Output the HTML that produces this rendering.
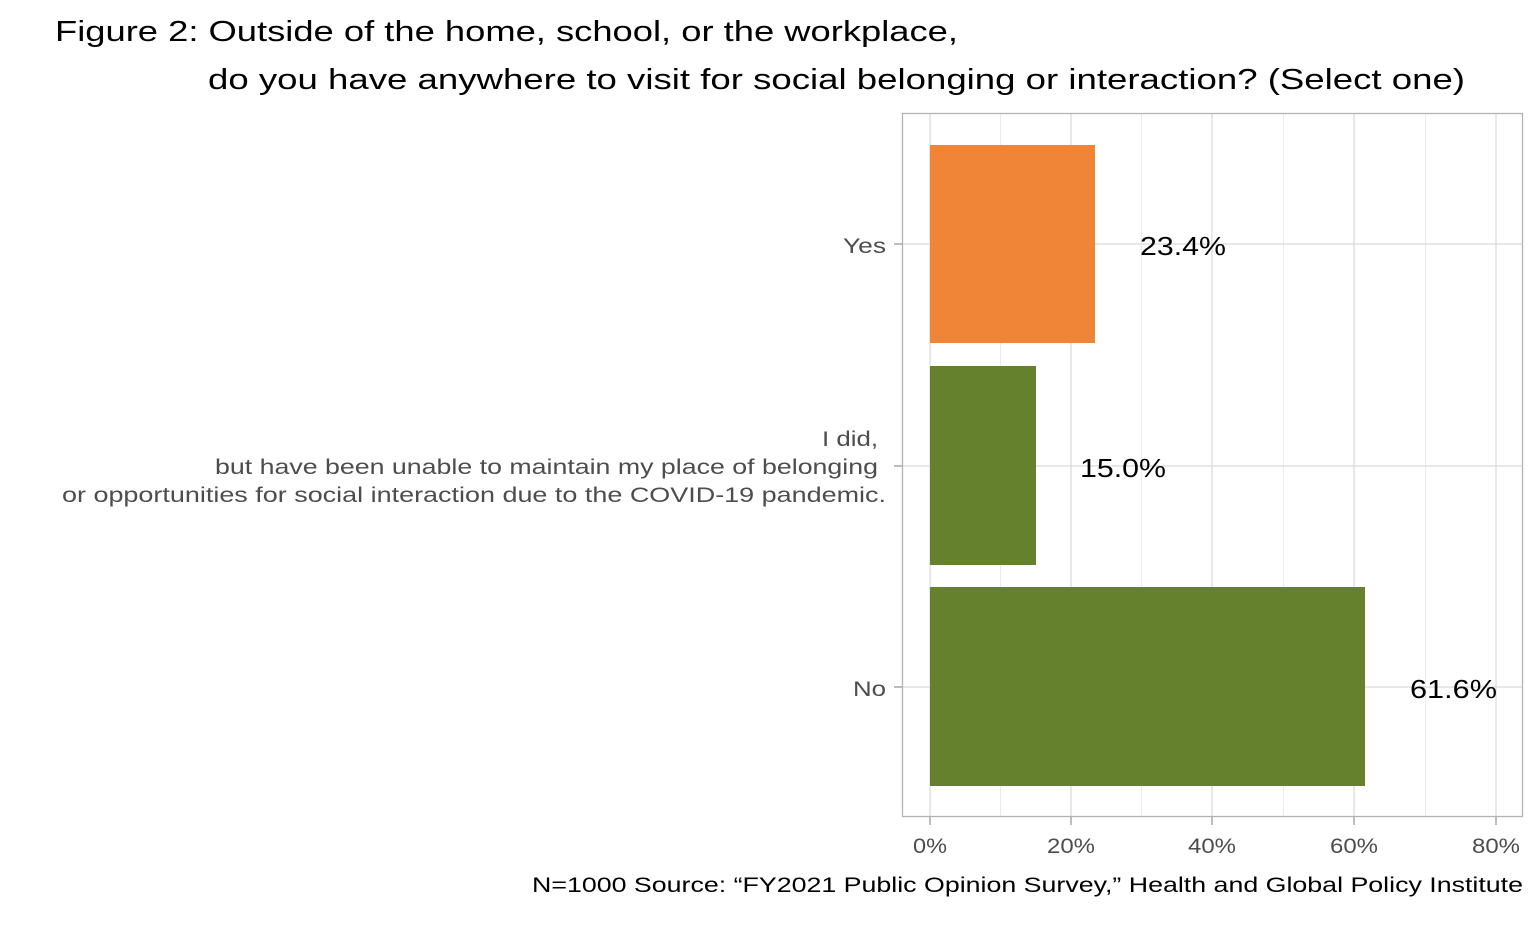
<!DOCTYPE html>
<html><head><meta charset="utf-8"><style>
html,body{margin:0;padding:0;background:#fff;}
svg{display:block;font-family:"Liberation Sans","Noto Sans CJK JP",sans-serif;}
</style></head><body>
<svg width="1540" height="951" viewBox="0 0 1540 951" xmlns="http://www.w3.org/2000/svg">
<rect width="1540" height="951" fill="#fff"/>
<text x="55" y="41" font-size="29" fill="#000" textLength="903" lengthAdjust="spacingAndGlyphs">Figure 2: Outside of the home, school, or the workplace,</text>
<text x="208" y="89" font-size="29" fill="#000" textLength="1257" lengthAdjust="spacingAndGlyphs">do you have anywhere to visit for social belonging or interaction? (Select one)</text>
<g stroke="#ebebeb" stroke-width="1">
<line x1="1000.5" y1="113" x2="1000.5" y2="817"/>
<line x1="1141.5" y1="113" x2="1141.5" y2="817"/>
<line x1="1283.5" y1="113" x2="1283.5" y2="817"/>
<line x1="1425.5" y1="113" x2="1425.5" y2="817"/>
</g>
<g stroke="#d9d9d9" stroke-width="1.2">
<line x1="930" y1="113" x2="930" y2="817"/>
<line x1="1071" y1="113" x2="1071" y2="817"/>
<line x1="1212" y1="113" x2="1212" y2="817"/>
<line x1="1354" y1="113" x2="1354" y2="817"/>
<line x1="1496" y1="113" x2="1496" y2="817"/>
<line x1="902" y1="244" x2="1523" y2="244"/>
<line x1="902" y1="466" x2="1523" y2="466"/>
<line x1="902" y1="687" x2="1523" y2="687"/>
</g>
<rect x="930" y="145" width="165" height="198" fill="#f08537"/>
<rect x="930" y="366" width="106" height="199" fill="#65812e"/>
<rect x="930" y="587" width="435" height="199" fill="#65812e"/>
<rect x="902.5" y="113.5" width="620" height="703" fill="none" stroke="#b3b3b3" stroke-width="1.3"/>
<g font-size="26" fill="#000" lengthAdjust="spacingAndGlyphs">
<text x="1140" y="255" textLength="86" lengthAdjust="spacingAndGlyphs">23.4%</text>
<text x="1080" y="477" textLength="86" lengthAdjust="spacingAndGlyphs">15.0%</text>
<text x="1410" y="698" textLength="87" lengthAdjust="spacingAndGlyphs">61.6%</text>
</g>
<g stroke="#999" stroke-width="1.3">
<line x1="894" y1="244" x2="902" y2="244"/>
<line x1="894" y1="466" x2="902" y2="466"/>
<line x1="894" y1="687" x2="902" y2="687"/>
<line x1="930" y1="817" x2="930" y2="825"/>
<line x1="1071" y1="817" x2="1071" y2="825"/>
<line x1="1212" y1="817" x2="1212" y2="825"/>
<line x1="1354" y1="817" x2="1354" y2="825"/>
<line x1="1496" y1="817" x2="1496" y2="825"/>
</g>
<g font-size="21" fill="#4d4d4d">
<text x="843" y="253" textLength="43" lengthAdjust="spacingAndGlyphs">Yes</text>
<text x="822" y="446" textLength="56" lengthAdjust="spacingAndGlyphs">I did,</text>
<text x="215" y="474" textLength="663" lengthAdjust="spacingAndGlyphs">but have been unable to maintain my place of belonging</text>
<text x="62" y="502" textLength="824" lengthAdjust="spacingAndGlyphs">or opportunities for social interaction due to the COVID-19 pandemic.</text>
<text x="853" y="696" textLength="33" lengthAdjust="spacingAndGlyphs">No</text>
</g>
<g font-size="21" fill="#4d4d4d">
<text x="913" y="853" textLength="34" lengthAdjust="spacingAndGlyphs">0%</text>
<text x="1047" y="853" textLength="48" lengthAdjust="spacingAndGlyphs">20%</text>
<text x="1188" y="853" textLength="48" lengthAdjust="spacingAndGlyphs">40%</text>
<text x="1330" y="853" textLength="48" lengthAdjust="spacingAndGlyphs">60%</text>
<text x="1472" y="853" textLength="48" lengthAdjust="spacingAndGlyphs">80%</text>
</g>
<text x="532" y="892" font-size="21" fill="#000" textLength="991" lengthAdjust="spacingAndGlyphs">N=1000 Source: “FY2021 Public Opinion Survey,” Health and Global Policy Institute</text>
</svg>
</body></html>
